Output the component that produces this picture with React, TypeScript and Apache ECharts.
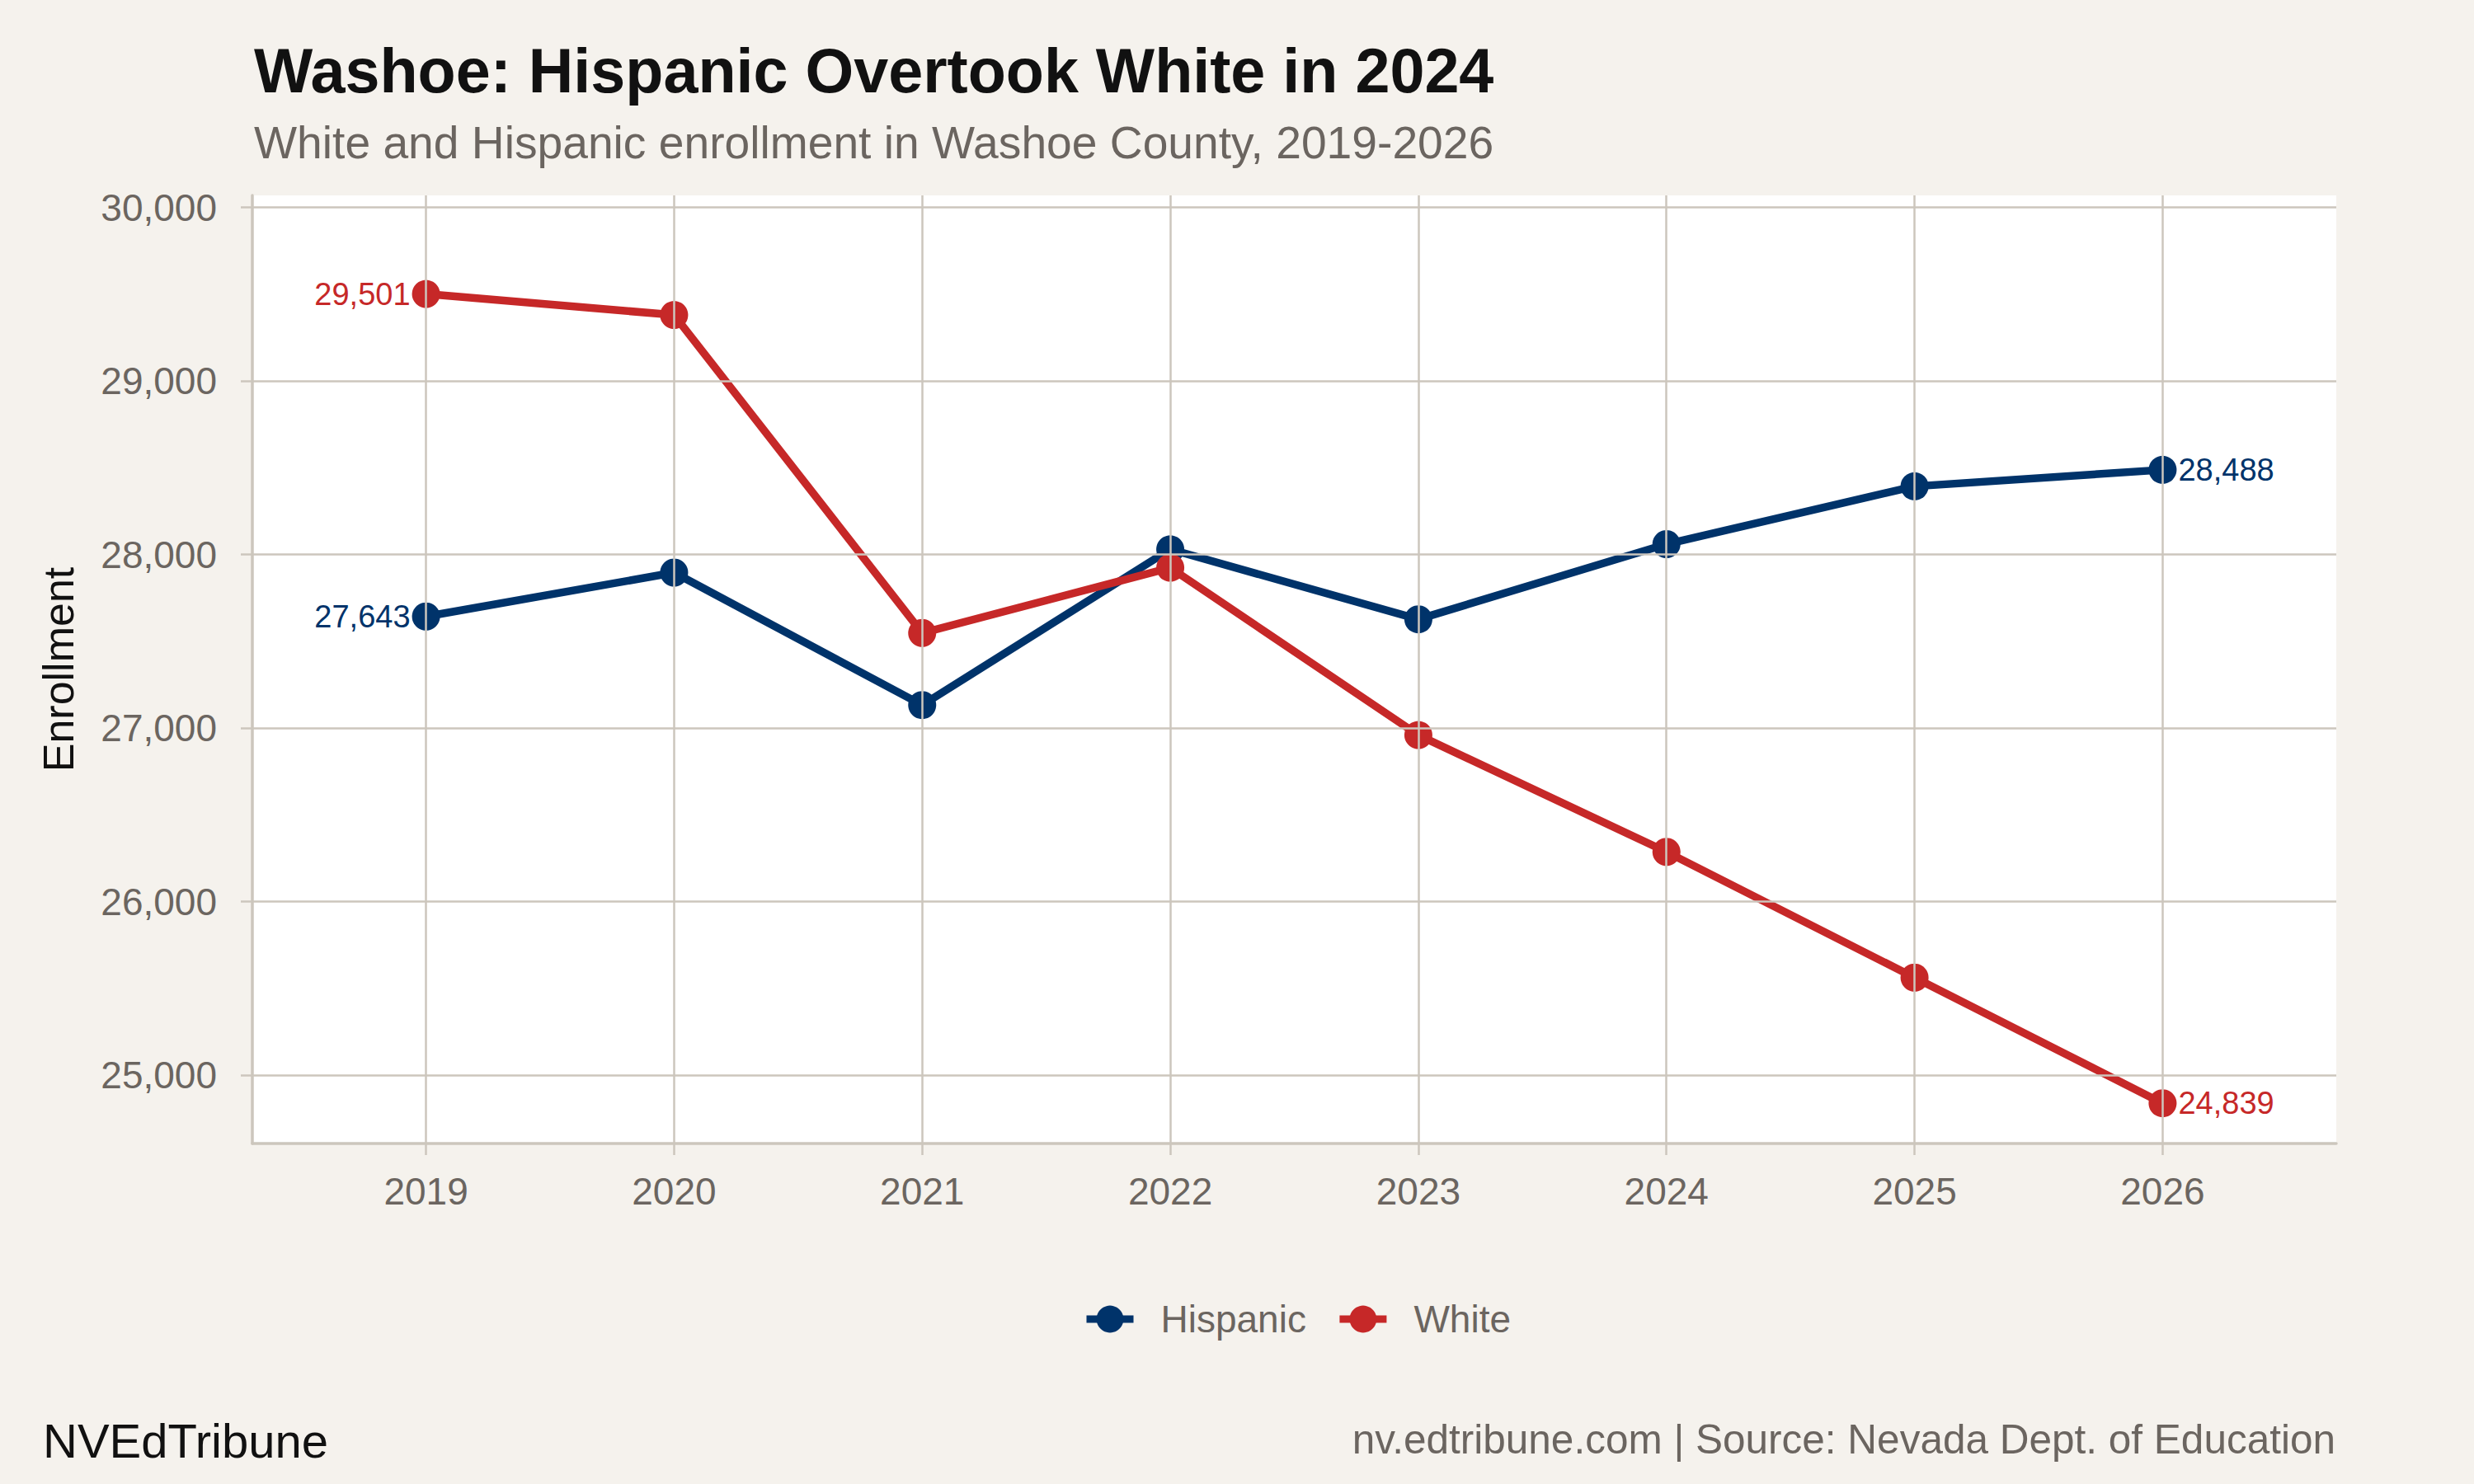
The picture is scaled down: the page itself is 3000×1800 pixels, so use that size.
import React, { useEffect, useRef } from "react";
import * as echarts from "echarts";

const years = [2019, 2020, 2021, 2022, 2023, 2024, 2025, 2026];
const hispanic = [27643, 27896, 27133, 28030, 27627, 28060, 28393, 28488];
const white = [29501, 29380, 27548, 27924, 26960, 26287, 25563, 24839];
const yTicks = [25000, 26000, 27000, 28000, 29000, 30000];
const seriesNames = ["Hispanic", "White"];

const FONT = '"Liberation Sans", Arial, Helvetica, sans-serif';
const BG = "#F5F2ED";
const GRIDC = "#CCC6BD";
const GRAY = "#6B6560";
const NAVY = "#00336A";
const RED = "#C62828";

const fmt = (v: number) => Math.round(v).toLocaleString("en-US");

function buildData(values: number[], color: string) {
  return values.map((v, i) => {
    const item: any = { value: [years[i], v] };
    if (i === 0 || i === values.length - 1) {
      item.label = {
        show: true,
        position: i === 0 ? "left" : "right",
        distance: 2,
        formatter: (p: any) => fmt(p.value[1]),
        color,
        fontSize: 38,
        fontFamily: FONT,
      };
    }
    return item;
  });
}

export default function App() {
  const ref = useRef<HTMLDivElement>(null);
  useEffect(() => {
    if (!ref.current) return;
    const chart = echarts.init(ref.current, undefined, { renderer: "svg" });
    const option: any = {
      animation: false,
      backgroundColor: BG,
      textStyle: { fontFamily: FONT },
      grid: {
        left: 306,
        right: 167,
        top: 237,
        bottom: 413,
        show: true,
        backgroundColor: "#FFFFFF",
        borderWidth: 0,
      },
      legend: {
        data: seriesNames,
        left: 1313,
        top: 1577,
        itemWidth: 57,
        itemHeight: 41,
        itemGap: 36,
        padding: 0,
        selectedMode: false,
        lineStyle: { width: 9 },
        textStyle: {
          fontSize: 46,
          color: GRAY,
          fontFamily: FONT,
          padding: [0, 0, 0, 28],
        },
      },
      xAxis: {
        type: "value",
        min: 2018.3,
        max: 2026.7,
        axisLine: { show: true, lineStyle: { color: GRIDC, width: 3.5 } },
        axisTick: {
          show: true,
          customValues: years,
          length: 14,
          lineStyle: { color: GRIDC, width: 2.5 },
        },
        axisLabel: {
          customValues: years,
          formatter: (v: number) => String(v),
          fontSize: 46,
          color: GRAY,
          fontFamily: FONT,
          margin: 35,
        },
        splitLine: { show: false },
      },
      yAxis: {
        type: "value",
        min: 24607,
        max: 30069,
        axisLine: { show: true, lineStyle: { color: GRIDC, width: 3.5 } },
        axisTick: {
          show: true,
          customValues: yTicks,
          length: 14,
          lineStyle: { color: GRIDC, width: 2.5 },
        },
        axisLabel: {
          customValues: yTicks,
          formatter: (v: number) => fmt(v),
          fontSize: 46,
          color: GRAY,
          fontFamily: FONT,
          margin: 43,
        },
        splitLine: { show: false },
      },
      series: [
        {
          type: "line",
          data: [],
          z: 1,
          silent: true,
          markLine: {
            silent: true,
            animation: false,
            symbol: ["none", "none"],
            label: { show: false },
            emphasis: { disabled: true },
            lineStyle: { color: GRIDC, width: 2.5, type: "solid" },
            data: [
              ...yTicks.map((v) => ({ yAxis: v })),
              ...years.map((y) => ({ xAxis: y })),
            ],
          },
        },
        {
          type: "line",
          name: seriesNames[0],
          data: buildData(hispanic, NAVY),
          symbol: "circle",
          symbolSize: 34,
          z: 3,
          lineStyle: { color: NAVY, width: 9.5 },
          itemStyle: { color: NAVY },
          label: { show: false },
          emphasis: { disabled: true },
        },
        {
          type: "line",
          name: seriesNames[1],
          data: buildData(white, RED),
          symbol: "circle",
          symbolSize: 34,
          z: 3,
          lineStyle: { color: RED, width: 9.5 },
          itemStyle: { color: RED },
          label: { show: false },
          emphasis: { disabled: true },
        },
      ],
      graphic: [
        {
          type: "text",
          x: 308,
          y: 86,
          style: {
            text: "Washoe: Hispanic Overtook White in 2024",
            fontSize: 75.5,
            fontWeight: "bold",
            fontFamily: FONT,
            fill: "#111111",
            verticalAlign: "middle",
          },
        },
        {
          type: "text",
          x: 308,
          y: 173,
          style: {
            text: "White and Hispanic enrollment in Washoe County, 2019-2026",
            fontSize: 55.2,
            fontFamily: FONT,
            fill: GRAY,
            verticalAlign: "middle",
          },
        },
        {
          type: "text",
          x: 71,
          y: 812,
          rotation: Math.PI / 2,
          style: {
            text: "Enrollment",
            fontSize: 52,
            fontFamily: FONT,
            fill: "#111111",
            align: "center",
            verticalAlign: "middle",
          },
        },
        {
          type: "text",
          x: 52,
          y: 1747,
          style: {
            text: "NVEdTribune",
            fontSize: 58,
            fontFamily: FONT,
            fill: "#111111",
            verticalAlign: "middle",
          },
        },
        {
          type: "text",
          x: 2832,
          y: 1745,
          style: {
            text: "nv.edtribune.com | Source: Nevada Dept. of Education",
            fontSize: 49.5,
            fontFamily: FONT,
            fill: GRAY,
            align: "right",
            verticalAlign: "middle",
          },
        },
      ],
    };
    chart.setOption(option);
    return () => chart.dispose();
  }, []);
  return (
    <div
      ref={ref}
      style={{ position: "fixed", left: 0, top: 0, width: 3000, height: 1800 }}
    />
  );
}
